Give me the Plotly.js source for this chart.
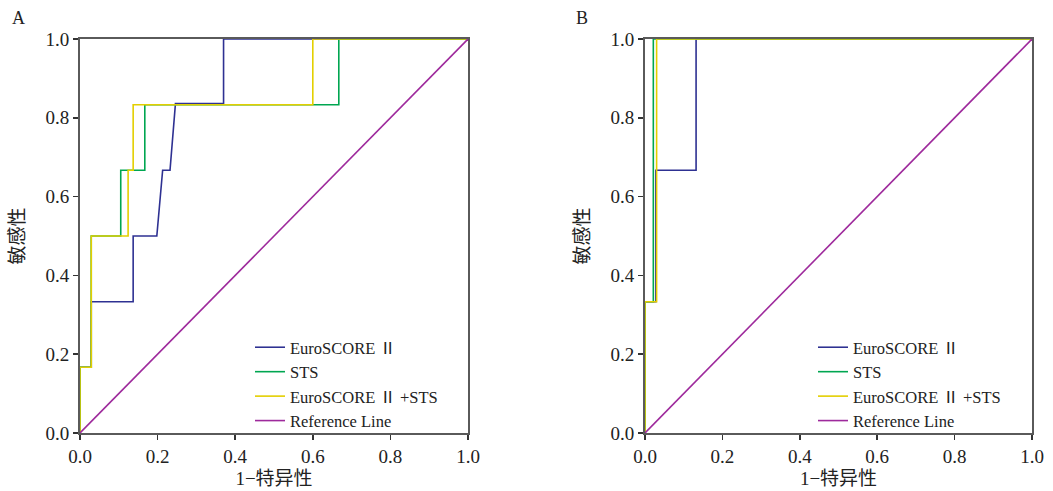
<!DOCTYPE html>
<html>
<head>
<meta charset="utf-8">
<script src="https://cdn.plot.ly/plotly-3.0.1.min.js"></script>
<style>html,body{margin:0;padding:0;background:#fff;}#chart{width:1053px;height:491px;}</style>
</head>
<body>
<div id="chart"></div>
<script>
// Panel A ROC curves (1-specificity, sensitivity)
const seriesNames = ["EuroSCORE Ⅱ", "STS", "EuroSCORE Ⅱ +STS", "Reference Line"];
const colors = ["#2e3192", "#00a651", "#e3cf00", "#9e2a9c"];

const aEuroX = [0, 0, 0.029, 0.029, 0.137, 0.137, 0.198, 0.213, 0.232, 0.246, 0.370, 0.370, 1];
const aEuroY = [0, 0.167, 0.167, 0.333, 0.333, 0.5, 0.5, 0.667, 0.667, 0.836, 0.836, 1, 1];
const aStsX = [0, 0, 0.029, 0.029, 0.105, 0.105, 0.167, 0.167, 0.667, 0.667, 1];
const aStsY = [0, 0.167, 0.167, 0.5, 0.5, 0.667, 0.667, 0.833, 0.833, 1, 1];
const aBothX = [0, 0, 0.029, 0.029, 0.124, 0.124, 0.137, 0.137, 0.6, 0.6, 1];
const aBothY = [0, 0.167, 0.167, 0.5, 0.5, 0.667, 0.667, 0.833, 0.833, 1, 1];

// Panel B ROC curves
const bEuroX = [0, 0, 0.028, 0.028, 0.132, 0.132, 1];
const bEuroY = [0, 0.333, 0.333, 0.667, 0.667, 1, 1];
const bStsX = [0, 0, 0.0215, 0.0215, 1];
const bStsY = [0, 0.333, 0.333, 1, 1];
const bBothX = [0, 0, 0.030, 0.030, 1];
const bBothY = [0, 0.333, 0.333, 1, 1];

const refX = [0, 1];
const refY = [0, 1];

const tickVals = [0, 0.2, 0.4, 0.6, 0.8, 1.0];
const tickText = ["0.0", "0.2", "0.4", "0.6", "0.8", "1.0"];
const xTitle = "1−特异性";
const yTitle = "敏感性";
const panelLabels = ["A", "B"];

const serif = "Liberation Serif, Times New Roman, Noto Sans CJK SC, serif";

function tr(x, y, i, xa, ya, leg) {
  return {x: x, y: y, type: "scatter", mode: "lines", name: seriesNames[i],
    line: {color: colors[i], width: 1.6}, xaxis: xa, yaxis: ya,
    legend: leg, showlegend: true, cliponaxis: true};
}

const data = [
  tr(aEuroX, aEuroY, 0, "x", "y", "legend"),
  tr(aStsX, aStsY, 1, "x", "y", "legend"),
  tr(aBothX, aBothY, 2, "x", "y", "legend"),
  tr(refX, refY, 3, "x", "y", "legend"),
  tr(bEuroX, bEuroY, 0, "x2", "y2", "legend2"),
  tr(bStsX, bStsY, 1, "x2", "y2", "legend2"),
  tr(bBothX, bBothY, 2, "x2", "y2", "legend2"),
  tr(refX, refY, 3, "x2", "y2", "legend2")
];

function ax(domain, anchor, title, isX) {
  return {
    domain: domain, anchor: anchor, range: [0, 1], autorange: false,
    tickvals: tickVals, ticktext: tickText,
    showline: true, mirror: true, linecolor: "#5a5a5a", linewidth: 2,
    layer: "above traces",
    ticks: "outside", ticklen: 5, tickwidth: 1.5, tickcolor: "#333",
    showgrid: false, zeroline: false,
    tickfont: {family: serif, size: 19, color: "#222"},
    title: {text: title, font: {family: serif, size: 19, color: "#222"}, standoff: isX ? 6 : 16},
    fixedrange: true
  };
}

const yDom = [(491 - 433) / 491, (491 - 39) / 491];
const legFont = {family: serif, size: 16.5, color: "#222"};
const layout = {
  width: 1053, height: 491,
  margin: {l: 0, r: 0, t: 0, b: 0},
  paper_bgcolor: "#fff", plot_bgcolor: "#fff",
  xaxis: ax([80 / 1053, 468 / 1053], "y", xTitle, true),
  yaxis: ax(yDom, "x", yTitle, false),
  xaxis2: ax([645 / 1053, 1032 / 1053], "y2", xTitle, true),
  yaxis2: ax(yDom, "x2", yTitle, false),
  legend: {x: 250 / 1053, y: (491 - 330) / 491, xanchor: "left", yanchor: "top",
    bgcolor: "rgba(0,0,0,0)", font: legFont, tracegroupgap: 0, itemwidth: 30},
  legend2: {x: 813 / 1053, y: (491 - 330) / 491, xanchor: "left", yanchor: "top",
    bgcolor: "rgba(0,0,0,0)", font: legFont, tracegroupgap: 0, itemwidth: 30},
  annotations: [
    {text: panelLabels[0], x: 10 / 1053, y: (491 - 18) / 491, xref: "paper", yref: "paper",
     showarrow: false, xanchor: "left", yanchor: "middle", font: {family: serif, size: 18, color: "#222"}},
    {text: panelLabels[1], x: 574 / 1053, y: (491 - 18) / 491, xref: "paper", yref: "paper",
     showarrow: false, xanchor: "left", yanchor: "middle", font: {family: serif, size: 18, color: "#222"}}
  ]
};

Plotly.newPlot("chart", data, layout, {displayModeBar: false, staticPlot: true});
</script>
</body>
</html>
